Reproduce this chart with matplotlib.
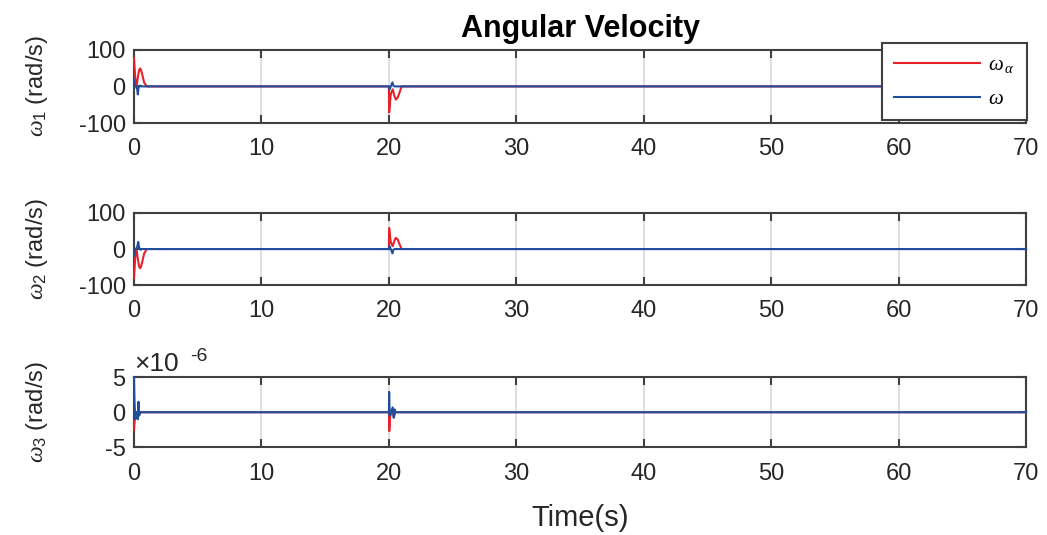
import matplotlib
matplotlib.use("Agg")
import matplotlib.pyplot as plt
from matplotlib.ticker import FuncFormatter

plt.rcParams['font.family'] = ['Liberation Sans', 'DejaVu Sans']
plt.rcParams['mathtext.fontset'] = 'custom'
plt.rcParams['mathtext.rm'] = 'Liberation Sans'
plt.rcParams['mathtext.it'] = 'Liberation Serif:italic'
plt.rcParams['axes.unicode_minus'] = False

# ---- data -------------------------------------------------------------
# omega_1
t1_alpha = [0, 0.1, 0.2, 0.3, 0.4, 0.47, 0.55, 0.65, 0.8, 1.0,
            20.0, 20.02, 20.15, 20.3, 20.42, 20.55, 20.7, 20.85, 21.0, 70]
w1_alpha = [77, 20, 0, 25, 44, 49, 45, 32, 10, 0,
            0, -71, -20, -8, -25, -36, -30, -15, 0, 0]
t1 = [0, 0.05, 0.15, 0.25, 0.3, 0.35, 0.45, 0.6,
      20.0, 20.05, 20.15, 20.28, 20.35, 20.45, 70]
w1 = [19, 5, 0, -8, -22, -5, 2, 0,
      0, -8, 0, 11, 2, 0, 0]

# omega_2
t2_alpha = [0, 0.1, 0.2, 0.3, 0.4, 0.47, 0.55, 0.65, 0.8, 1.0,
            20.0, 20.02, 20.15, 20.3, 20.42, 20.55, 20.7, 20.85, 21.0, 70]
w2_alpha = [-80, -20, 0, -28, -48, -53, -49, -35, -12, 0,
            0, 58, 18, 8, 22, 31, 26, 12, 0, 0]
t2 = [0, 0.05, 0.15, 0.25, 0.33, 0.4, 0.5, 0.6,
      20.0, 20.05, 20.15, 20.28, 20.35, 20.45, 70]
w2 = [-19, -5, 0, 6, 20, 4, -2, 0,
      0, 8, 0, -12, -2, 0, 0]

# omega_3
t3_alpha = [0, 0.05, 0.15, 0.25, 0.3, 0.35, 0.45,
            20.0, 20.03, 20.1, 20.3, 20.4, 20.5, 70]
w3_alpha = [-2.5e-6, -1.2e-6, -0.3e-6, 0, -0.9e-6, 0.3e-6, 0,
            0, -2.7e-6, -0.5e-6, 0, -0.7e-6, 0, 0]
t3 = [0, 0.04, 0.1, 0.2, 0.3, 0.35, 0.4, 0.5,
      20.0, 20.02, 20.06, 20.15, 20.3, 20.38, 20.45, 20.55, 70]
w3 = [5e-6, 1.5e-6, -1e-6, 0, -1e-6, 1.5e-6, -0.5e-6, 0,
      0, 2.9e-6, -0.5e-6, 0, 0.7e-6, -0.8e-6, 0.4e-6, 0, 0]

x_ticks = [0, 10, 20, 30, 40, 50, 60, 70]
y_ticks_12 = [-100, 0, 100]
y_ticks_3 = [-5e-6, 0, 5e-6]

ylabels = [r'$\omega_{\mathregular{1}}$ (rad/s)',
           r'$\omega_{\mathregular{2}}$ (rad/s)',
           r'$\omega_{\mathregular{3}}$ (rad/s)']

RED = '#e8202a'
BLUE = '#1f4e9e'
EDGE = '#404040'
TXT = '#262626'

fig = plt.figure(figsize=(10.47, 5.35), dpi=100)
positions = [[0.128, 0.770, 0.852, 0.137],
             [0.128, 0.467, 0.852, 0.135],
             [0.128, 0.164, 0.852, 0.131]]

series = [(t1_alpha, w1_alpha, t1, w1, y_ticks_12),
          (t2_alpha, w2_alpha, t2, w2, y_ticks_12),
          (t3_alpha, w3_alpha, t3, w3, y_ticks_3)]

axes = []
for pos, (ta, wa, tb, wb, yt), yl in zip(positions, series, ylabels):
    ax = fig.add_axes(pos)
    la, = ax.plot(ta, wa, color=RED, lw=1.5, zorder=3, clip_on=False)
    lb, = ax.plot(tb, wb, color=BLUE, lw=1.5, zorder=3.1, clip_on=False)
    ax.set_xlim(0, 70)
    ax.set_ylim(yt[0], yt[-1])
    ax.set_xticks(x_ticks)
    ax.set_yticks(yt)
    ax.grid(axis='x', color='#dcdcdc', lw=1.3)
    ax.set_axisbelow(True)
    for s in ax.spines.values():
        s.set_color(EDGE)
        s.set_linewidth(1.5)
    ax.tick_params(direction='in', length=6, width=1.5, color=EDGE,
                   top=True, right=True, labelsize=17, labelcolor=TXT)
    ax.tick_params(axis='x', pad=11)
    ax.tick_params(axis='y', pad=6)
    ax.set_ylabel(yl, fontsize=17, color=TXT)
    ax.yaxis.set_label_coords(-0.094, 0.5)
    axes.append(ax)

# scaled tick labels for omega_3 with the exponent written above the axes
axes[2].yaxis.set_major_formatter(FuncFormatter(lambda v, p: f'{v * 1e6:.0f}'))
axes[2].text(0.0, 1.01, '×10', transform=axes[2].transAxes,
             fontsize=19, color=TXT, ha='left', va='bottom')
axes[2].text(0.063, 1.18, '-6', transform=axes[2].transAxes,
             fontsize=14, color=TXT, ha='left', va='bottom')

axes[2].set_xlabel('Time(s)', fontsize=21, color=TXT, labelpad=14)
axes[0].set_title('Angular Velocity', fontsize=22, fontweight='bold',
                  color='black', pad=9)

leg = fig.legend([la, lb], [r'$\omega_{\,\alpha}$', r'$\omega$'],
                 loc='upper right', bbox_to_anchor=(0.981, 0.920),
                 bbox_transform=fig.transFigure, fontsize=15,
                 fancybox=False, edgecolor=EDGE, framealpha=1,
                 handlelength=4.1, labelspacing=0.65, borderpad=0.6,
                 borderaxespad=0, handletextpad=0.4)
leg.get_frame().set_linewidth(1.5)

fig.savefig('out.png', dpi=100)
